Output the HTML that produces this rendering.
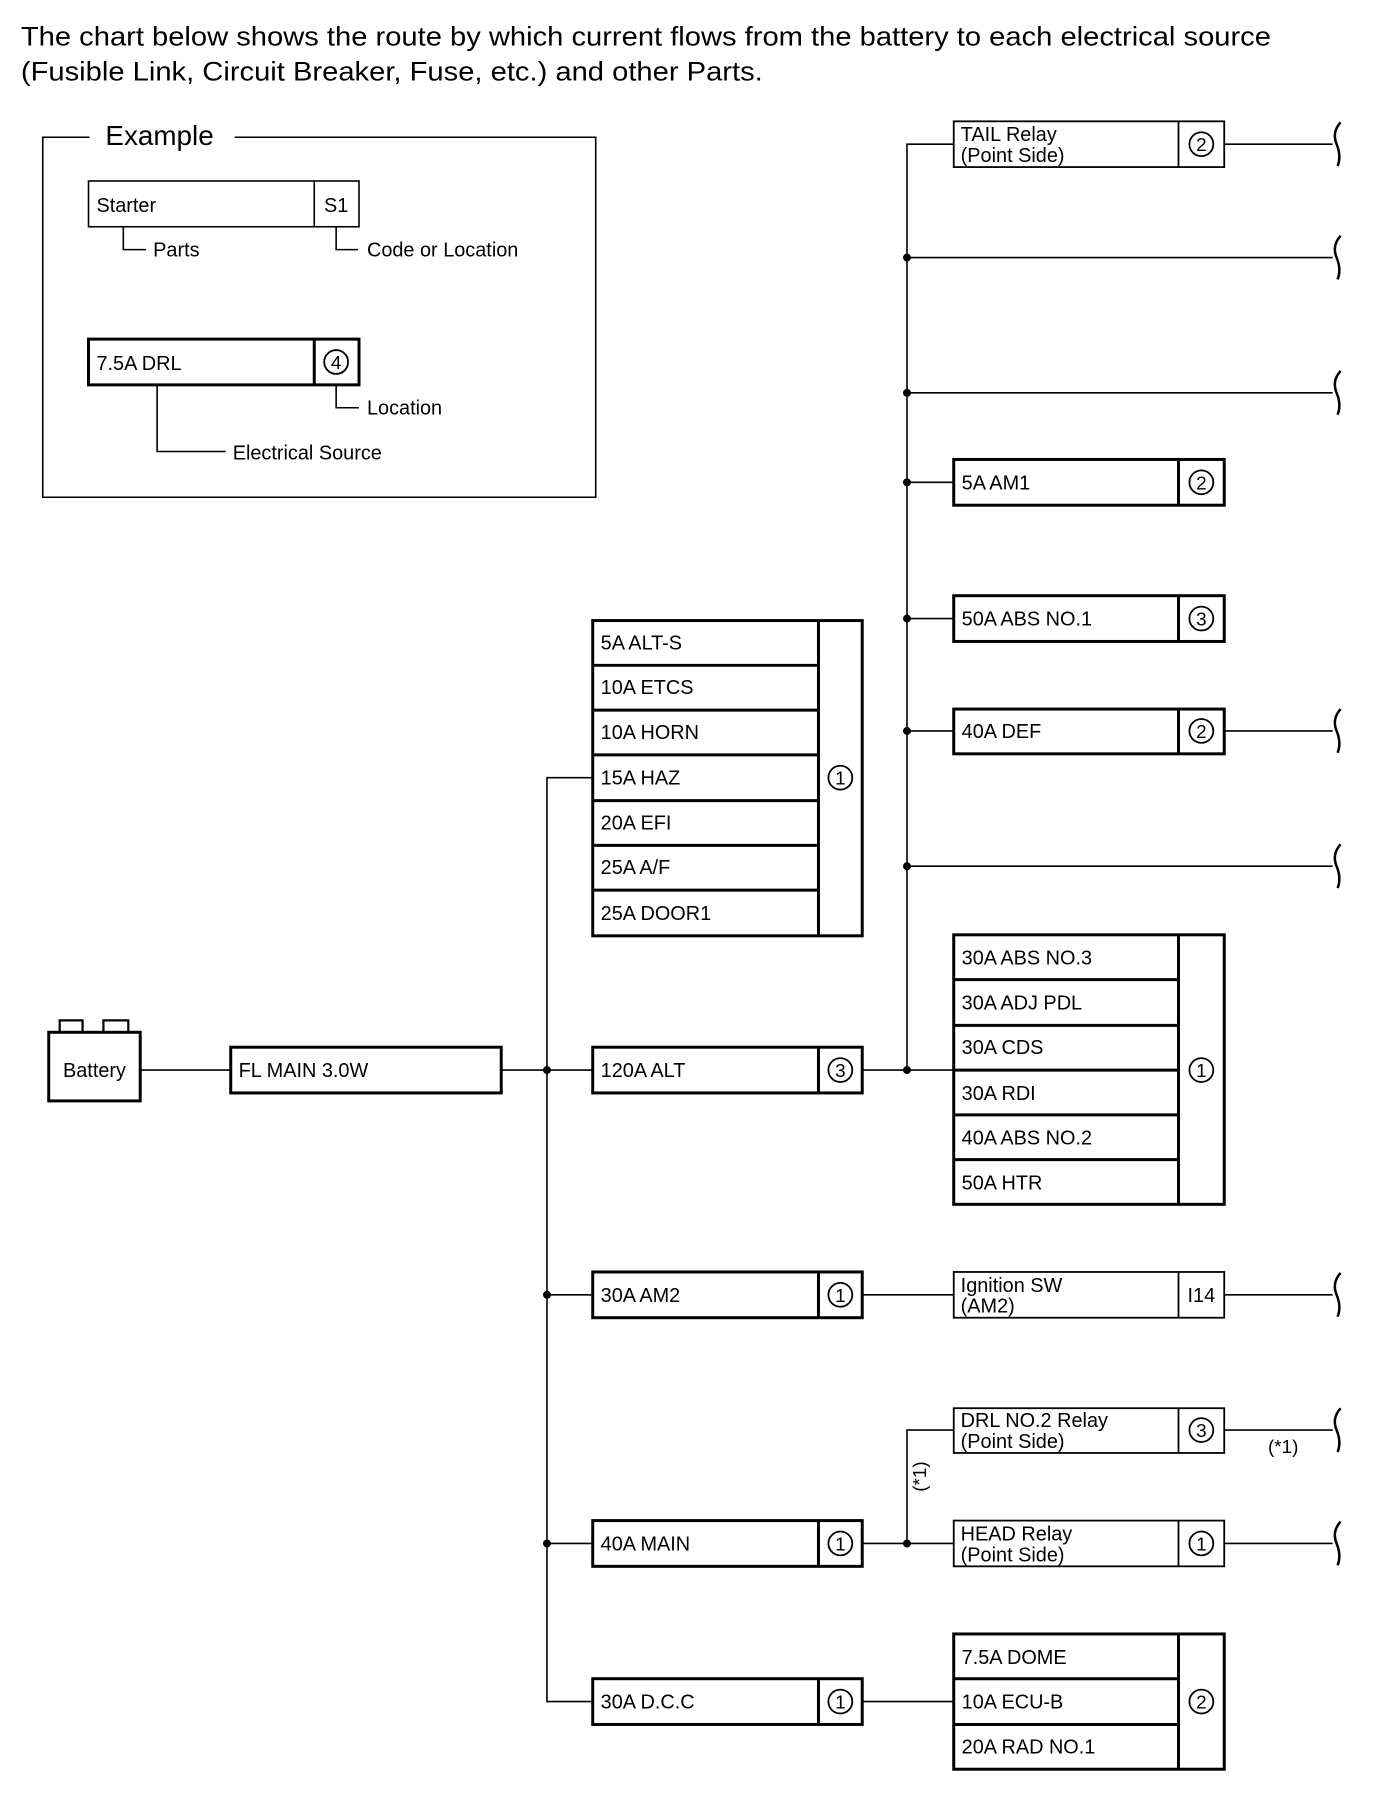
<!DOCTYPE html>
<html><head><meta charset="utf-8"><style>
html,body{margin:0;padding:0;background:#fff}
svg{display:block}
text{font-family:"Liberation Sans",Arial,sans-serif;fill:#000}
</style></head><body>
<svg width="1392" height="1794" viewBox="0 0 1392 1794" xmlns="http://www.w3.org/2000/svg">
<defs>
<g id="sq"><path d="M4,-22 Q-5,-12 0,0 Q5,12 1,22" fill="none" stroke="#000" stroke-width="2.5"/></g>
</defs>
<g transform="scale(0.9945)">
<text x="21" y="46" font-size="27" textLength="1257" lengthAdjust="spacingAndGlyphs">The chart below shows the route by which current flows from the battery to each electrical source</text>
<text x="21" y="81" font-size="27" textLength="746" lengthAdjust="spacingAndGlyphs">(Fusible Link, Circuit Breaker, Fuse, etc.) and other Parts.</text>

<g stroke="#000" fill="none" stroke-width="1.6">
<path d="M90,138 H43 V500 H599 V138 H236"/>
<rect x="89" y="182" width="272" height="46"/>
<line x1="316" y1="182" x2="316" y2="228"/>
<path d="M124,228 V251 H147"/>
<path d="M338,228 V251 H360"/>
<path d="M158,387 V454 H227"/>
<path d="M338,387 V410 H361"/>
</g>
<rect x="89" y="341" width="272" height="46" fill="none" stroke="#000" stroke-width="3"/>
<line x1="316" y1="341" x2="316" y2="387" stroke="#000" stroke-width="3"/>
<circle cx="338" cy="364" r="12" fill="none" stroke="#000" stroke-width="1.8"/>
<text x="338" y="371" font-size="19" text-anchor="middle">4</text>
<text x="106" y="146" font-size="28">Example</text>
<text x="97" y="213" font-size="20">Starter</text>
<text x="338" y="213" font-size="20" text-anchor="middle">S1</text>
<text x="154" y="258" font-size="20">Parts</text>
<text x="369" y="258" font-size="20">Code or Location</text>
<text x="97" y="372" font-size="20">7.5A DRL</text>
<text x="369" y="417" font-size="20">Location</text>
<text x="234" y="462" font-size="20">Electrical Source</text>

<g stroke="#000" fill="none" stroke-width="1.6">
<line x1="141" y1="1076" x2="232" y2="1076"/>
<line x1="504" y1="1076" x2="596" y2="1076"/>
<path d="M596,782 H550 V1711 H596"/>
<line x1="550" y1="1302" x2="596" y2="1302"/>
<line x1="550" y1="1552" x2="596" y2="1552"/>
<line x1="867" y1="1076" x2="959" y2="1076"/>
<path d="M959,145 H912 V1076"/>
<line x1="912" y1="259" x2="1340" y2="259"/>
<line x1="912" y1="395" x2="1340" y2="395"/>
<line x1="912" y1="485" x2="959" y2="485"/>
<line x1="912" y1="622" x2="959" y2="622"/>
<line x1="912" y1="735" x2="959" y2="735"/>
<line x1="912" y1="871" x2="1340" y2="871"/>
<line x1="1231" y1="145" x2="1340" y2="145"/>
<line x1="1231" y1="735" x2="1340" y2="735"/>
<line x1="867" y1="1302" x2="959" y2="1302"/>
<line x1="1231" y1="1302" x2="1340" y2="1302"/>
<line x1="867" y1="1552" x2="959" y2="1552"/>
<path d="M912,1552 V1438 H959"/>
<line x1="1231" y1="1438" x2="1340" y2="1438"/>
<line x1="1231" y1="1552" x2="1340" y2="1552"/>
<line x1="867" y1="1711" x2="959" y2="1711"/>
</g>
<g fill="#000">
<circle cx="550" cy="1076" r="4"/><circle cx="550" cy="1302" r="4"/><circle cx="550" cy="1552" r="4"/>
<circle cx="912" cy="1076" r="4"/><circle cx="912" cy="259" r="4"/><circle cx="912" cy="395" r="4"/>
<circle cx="912" cy="485" r="4"/><circle cx="912" cy="622" r="4"/><circle cx="912" cy="735" r="4"/>
<circle cx="912" cy="871" r="4"/><circle cx="912" cy="1552" r="4"/>
</g>
<g>
<use href="#sq" x="1344" y="145"/><use href="#sq" x="1344" y="259"/><use href="#sq" x="1344" y="395"/>
<use href="#sq" x="1344" y="735"/><use href="#sq" x="1344" y="871"/><use href="#sq" x="1344" y="1302"/>
<use href="#sq" x="1344" y="1438"/><use href="#sq" x="1344" y="1552"/>
</g>

<g stroke="#000" fill="none" stroke-width="3">
<rect x="49" y="1038" width="92" height="69"/>
<path d="M60,1038 V1026 H83 V1038 M104,1038 V1026 H129 V1038" stroke-width="2.2"/>
</g>
<text x="95" y="1083" font-size="20" text-anchor="middle">Battery</text>

<g stroke="#000" fill="none" stroke-width="3">
<rect x="232" y="1053" width="272" height="46"/>
<rect x="596" y="624" width="271" height="317"/>
<line x1="823" y1="624" x2="823" y2="941"/>
<path d="M596,669 H823 M596,714 H823 M596,759 H823 M596,805 H823 M596,850 H823 M596,895 H823"/>
<rect x="596" y="1053" width="271" height="46"/><line x1="823" y1="1053" x2="823" y2="1099"/>
<rect x="596" y="1279" width="271" height="46"/><line x1="823" y1="1279" x2="823" y2="1325"/>
<rect x="596" y="1529" width="271" height="46"/><line x1="823" y1="1529" x2="823" y2="1575"/>
<rect x="596" y="1688" width="271" height="46"/><line x1="823" y1="1688" x2="823" y2="1734"/>
<rect x="959" y="462" width="272" height="46"/><line x1="1185" y1="462" x2="1185" y2="508"/>
<rect x="959" y="599" width="272" height="46"/><line x1="1185" y1="599" x2="1185" y2="645"/>
<rect x="959" y="713" width="272" height="45"/><line x1="1185" y1="713" x2="1185" y2="758"/>
<rect x="959" y="940" width="272" height="271"/><line x1="1185" y1="940" x2="1185" y2="1211"/>
<path d="M959,985 H1185 M959,1031 H1185 M959,1076 H1185 M959,1121 H1185 M959,1166 H1185"/>
<rect x="959" y="1643" width="272" height="136"/><line x1="1185" y1="1643" x2="1185" y2="1779"/>
<path d="M959,1688 H1185 M959,1734 H1185"/>
</g>
<g stroke="#000" fill="none" stroke-width="1.8">
<rect x="959" y="122" width="272" height="46"/><line x1="1185" y1="122" x2="1185" y2="168"/>
<rect x="959" y="1279" width="272" height="46"/><line x1="1185" y1="1279" x2="1185" y2="1325"/>
<rect x="959" y="1416" width="272" height="45"/><line x1="1185" y1="1416" x2="1185" y2="1461"/>
<rect x="959" y="1529" width="272" height="46"/><line x1="1185" y1="1529" x2="1185" y2="1575"/>
</g>

<g stroke="#000" fill="none" stroke-width="1.8">
<circle cx="845" cy="782" r="12"/><circle cx="845" cy="1076" r="12"/><circle cx="845" cy="1302" r="12"/>
<circle cx="845" cy="1552" r="12"/><circle cx="845" cy="1711" r="12"/>
<circle cx="1208" cy="145" r="12"/><circle cx="1208" cy="485" r="12"/><circle cx="1208" cy="622" r="12"/>
<circle cx="1208" cy="735" r="12"/><circle cx="1208" cy="1076" r="12"/><circle cx="1208" cy="1438" r="12"/>
<circle cx="1208" cy="1552" r="12"/><circle cx="1208" cy="1711" r="12"/>
</g>
<g font-size="19" text-anchor="middle">
<text x="845" y="789">1</text><text x="845" y="1083">3</text><text x="845" y="1309">1</text>
<text x="845" y="1559">1</text><text x="845" y="1718">1</text>
<text x="1208" y="152">2</text><text x="1208" y="492">2</text><text x="1208" y="629">3</text>
<text x="1208" y="742">2</text><text x="1208" y="1083">1</text><text x="1208" y="1445">3</text>
<text x="1208" y="1559">1</text><text x="1208" y="1718">2</text>
<text x="1208" y="1309" font-size="20">I14</text>
</g>

<g font-size="20">
<text x="240" y="1083">FL MAIN 3.0W</text>
<text x="604" y="653">5A ALT-S</text>
<text x="604" y="698">10A ETCS</text>
<text x="604" y="743">10A HORN</text>
<text x="604" y="789">15A HAZ</text>
<text x="604" y="834">20A EFI</text>
<text x="604" y="879">25A A/F</text>
<text x="604" y="925">25A DOOR1</text>
<text x="604" y="1083">120A ALT</text>
<text x="604" y="1309">30A AM2</text>
<text x="604" y="1559">40A MAIN</text>
<text x="604" y="1718">30A D.C.C</text>
<text x="967" y="492">5A AM1</text>
<text x="967" y="629">50A ABS NO.1</text>
<text x="967" y="742">40A DEF</text>
<text x="967" y="970">30A ABS NO.3</text>
<text x="967" y="1015">30A ADJ PDL</text>
<text x="967" y="1060">30A CDS</text>
<text x="967" y="1106">30A RDI</text>
<text x="967" y="1151">40A ABS NO.2</text>
<text x="967" y="1196">50A HTR</text>
<text x="967" y="1673">7.5A DOME</text>
<text x="967" y="1718">10A ECU-B</text>
<text x="967" y="1763">20A RAD NO.1</text>
</g>
<g font-size="20">
<text x="966" y="142">TAIL Relay</text><text x="966" y="163">(Point Side)</text>
<text x="966" y="1299">Ignition SW</text><text x="966" y="1320">(AM2)</text>
<text x="966" y="1435">DRL NO.2 Relay</text><text x="966" y="1456">(Point Side)</text>
<text x="966" y="1549">HEAD Relay</text><text x="966" y="1570">(Point Side)</text>
<text x="1275" y="1461" font-size="19">(*1)</text>
<text x="0" y="0" font-size="19" transform="translate(931,1500) rotate(-90)">(*1)</text>
</g>
</g>
</svg>
</body></html>
